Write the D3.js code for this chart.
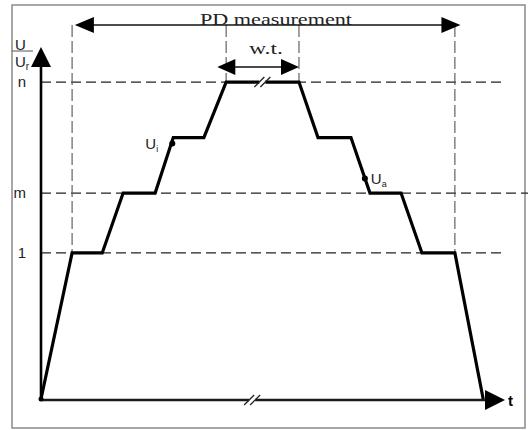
<!DOCTYPE html>
<html>
<head>
<meta charset="utf-8">
<script src="https://cdn.jsdelivr.net/npm/d3@7"></script>
<style>
  body { margin: 0; background: #fff; }
  svg { display: block; }
</style>
</head>
<body>
<div id="wrapper"></div>
<script>
// test voltage profile: time (arbitrary units) and level (U/Ur)
const profileTimes  = [0, 0.67, 1.32, 1.77, 2.46, 2.85, 3.51, 3.99, 5.56, 5.97, 6.68, 7.09, 7.76, 8.21, 8.92, 9.53];
const profileLevels = [0, 1, 1, 1.41, 1.41, 1.79, 1.79, 2.17, 2.17, 1.79, 1.79, 1.41, 1.41, 1, 1, 0];

// y tick levels and their labels
const tickLevels = [1, 1.41, 2.17];
const tickLabels = ["1", "m", "n"];

// horizontal guide lines: level and where they end
const guideLevels = [1, 1.41, 2.17];
const guideEnds   = [9.93, 10.6, 9.93];

// vertical guides (PD measurement window, withstand time)
const pdWindow = [0.67, 8.92];
const wtWindow = [3.99, 5.56];
const pdArrow  = [0.73, 9.04];
const wtArrow  = [3.80, 5.56];

// marked points
const markNames  = ["i", "a"];
const markTimes  = [2.83, 6.98];
const markLevels = [1.75, 1.51];

// breaks on the time axis
const breakTimes = [4.77];
const axisBreakTimes = [4.55];

const dimensions = { width: 528, height: 430 };
const origin = { x: 41, y: 399 };
const pdY = 25, wtY = 67;
const sans = "'Liberation Sans', Arial, sans-serif";
const serif = "'Liberation Serif', 'DejaVu Serif', serif";

const svg = d3.select("#wrapper")
  .append("svg")
    .attr("width", dimensions.width)
    .attr("height", dimensions.height);

const xScale = d3.scaleLinear().domain([0, 10]).range([origin.x, 505]);
const yScale = d3.scaleLinear().domain([0, 2.41]).range([origin.y, 47]);

// frame
svg.append("rect")
  .attr("x", 12).attr("y", 5)
  .attr("width", 513).attr("height", 423)
  .attr("fill", "none")
  .attr("stroke", "#8a8a8a")
  .attr("stroke-width", 1.5);

// horizontal dashed guides
svg.selectAll(".hguide")
    .data(guideLevels)
  .enter().append("line")
    .attr("x1", origin.x)
    .attr("x2", (d, i) => xScale(guideEnds[i]))
    .attr("y1", d => yScale(d))
    .attr("y2", d => yScale(d))
    .attr("stroke", "#222")
    .attr("stroke-width", 1.3)
    .attr("stroke-dasharray", "10,5");

// vertical dashed guides
const vguides = [
  ...pdWindow.map(t => ({ t, bottom: yScale(1) })),
  ...wtWindow.map(t => ({ t, bottom: yScale(2.17) }))
];
svg.selectAll(".vguide")
    .data(vguides)
  .enter().append("line")
    .attr("x1", d => xScale(d.t))
    .attr("x2", d => xScale(d.t))
    .attr("y1", pdY)
    .attr("y2", d => d.bottom)
    .attr("stroke", "#555")
    .attr("stroke-width", 1.1)
    .attr("stroke-dasharray", "12,4");

// double arrows
function doubleArrow(x1, x2, y, head, half) {
  svg.append("line")
    .attr("x1", x1 + head - 1).attr("x2", x2 - head + 1)
    .attr("y1", y).attr("y2", y)
    .attr("stroke", "#111").attr("stroke-width", 1.6);
  svg.append("path")
    .attr("d", `M${x1},${y}L${x1 + head},${y - half}L${x1 + head},${y + half}Z`)
    .attr("fill", "#000");
  svg.append("path")
    .attr("d", `M${x2},${y}L${x2 - head},${y - half}L${x2 - head},${y + half}Z`)
    .attr("fill", "#000");
}
doubleArrow(xScale(pdArrow[0]), xScale(pdArrow[1]), pdY, 19, 8);
doubleArrow(xScale(wtArrow[0]), xScale(wtArrow[1]), wtY, 18, 8);

svg.append("text")
  .attr("x", 200).attr("y", 25)
  .attr("textLength", 152)
  .attr("lengthAdjust", "spacingAndGlyphs")
  .style("font-family", serif)
  .style("font-size", "17px")
  .attr("fill", "#222")
  .text("PD measurement");

svg.append("text")
  .attr("x", 249).attr("y", 54)
  .attr("textLength", 34)
  .attr("lengthAdjust", "spacingAndGlyphs")
  .style("font-family", serif)
  .style("font-size", "17px")
  .attr("fill", "#222")
  .text("w.t.");

// axes
svg.append("line")
  .attr("x1", origin.x).attr("x2", 488)
  .attr("y1", origin.y + 1).attr("y2", origin.y + 1)
  .attr("stroke", "#1a1a1a").attr("stroke-width", 2.6);
svg.append("path")
  .attr("d", `M505,${origin.y + 1}L485,${origin.y - 9}L485,${origin.y + 11}Z`)
  .attr("fill", "#000");

svg.append("line")
  .attr("x1", origin.x).attr("x2", origin.x)
  .attr("y1", origin.y).attr("y2", 62)
  .attr("stroke", "#000").attr("stroke-width", 2.6);
svg.append("path")
  .attr("d", `M${origin.x},47L${origin.x - 10},67L${origin.x + 10},67Z`)
  .attr("fill", "#000");

const yAxis = svg.append("g")
  .attr("transform", `translate(${origin.x},0)`)
  .call(d3.axisLeft(yScale)
    .tickValues(tickLevels)
    .tickFormat((d, i) => tickLabels[i])
    .tickSize(0)
    .tickPadding(15));
yAxis.select(".domain").remove();
yAxis.selectAll("text")
  .style("font-family", sans)
  .style("font-size", "15px")
  .attr("fill", "#222");

// axis labels
svg.append("text")
  .attr("x", 508).attr("y", 406)
  .style("font-family", sans).style("font-size", "15px").style("font-weight", "bold")
  .text("t");
svg.append("text")
  .attr("x", 15).attr("y", 50)
  .style("font-family", sans).style("font-size", "15px").attr("fill", "#222")
  .text("U");
svg.append("line")
  .attr("x1", 12).attr("x2", 33).attr("y1", 51).attr("y2", 51)
  .attr("stroke", "#555").attr("stroke-width", 1);
const ur = svg.append("text")
  .attr("x", 15).attr("y", 67)
  .style("font-family", sans).style("font-size", "15px").attr("fill", "#222");
ur.append("tspan").text("U");
ur.append("tspan").attr("dy", 3).style("font-size", "10px").text("r");

// profile
const line = d3.line()
  .x(d => xScale(d[0]))
  .y(d => yScale(d[1]));
svg.append("path")
  .datum(profileTimes.map((t, i) => [t, profileLevels[i]]))
  .attr("d", line)
  .attr("fill", "none")
  .attr("stroke", "#000")
  .attr("stroke-width", 3.2)
  .attr("stroke-linejoin", "miter");

// break marks
function breakMark(x, y, w) {
  svg.append("rect")
    .attr("x", x - w / 2).attr("y", y - 3).attr("width", w).attr("height", 6)
    .attr("fill", "#fff");
  [-3, 3].forEach(off => {
    svg.append("line")
      .attr("x1", x + off - 5).attr("y1", y + 5)
      .attr("x2", x + off + 5).attr("y2", y - 5)
      .attr("stroke", "#222").attr("stroke-width", 1.3);
  });
}
breakTimes.forEach(t => breakMark(xScale(t), yScale(2.17), 6));
axisBreakTimes.forEach(t => breakMark(xScale(t), origin.y + 1, 6));

// marked points
svg.selectAll(".mark")
    .data(markTimes)
  .enter().append("circle")
    .attr("cx", d => xScale(d))
    .attr("cy", (d, i) => yScale(markLevels[i]))
    .attr("r", 3)
    .attr("fill", "#000");

svg.append("circle")
  .attr("cx", origin.x).attr("cy", origin.y).attr("r", 2.5).attr("fill", "#000");

const markOffsets = [[-27, 6], [6, 6]];
markNames.forEach((name, i) => {
  const txt = svg.append("text")
    .attr("x", xScale(markTimes[i]) + markOffsets[i][0])
    .attr("y", yScale(markLevels[i]) + markOffsets[i][1])
    .style("font-family", sans).style("font-size", "15px").attr("fill", "#222");
  txt.append("tspan").text("U");
  txt.append("tspan").attr("dy", 3).style("font-size", "9px").text(name);
});
</script>
</body>
</html>
